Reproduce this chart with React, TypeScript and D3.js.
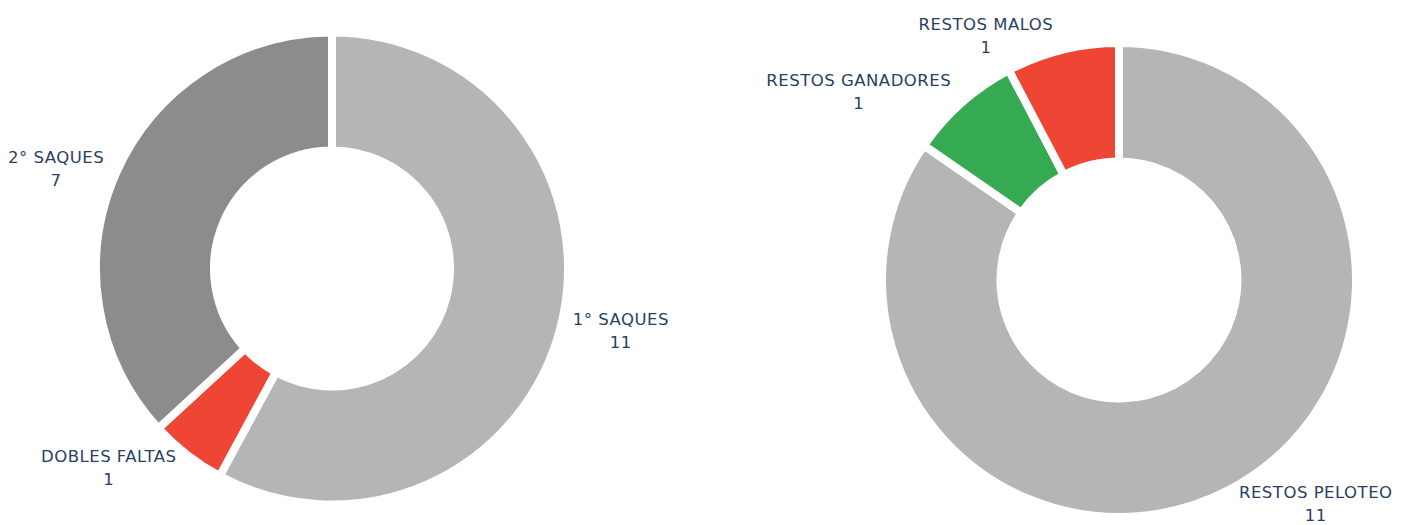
import React from 'react';
import * as d3 from 'd3';

const serveLabels = ['1° SAQUES', 'DOBLES FALTAS', '2° SAQUES'];
const serveValues = [11, 1, 7];
const serveColors = ['#b5b5b5', '#ee4535', '#8c8c8c'];

const returnLabels = ['RESTOS PELOTEO', 'RESTOS GANADORES', 'RESTOS MALOS'];
const returnValues = [11, 1, 1];
const returnColors = ['#b5b5b5', '#35aa52', '#ee4535'];

const W = 1406;
const H = 525;
const FONT_SIZE = 16.5;
const LETTER = 0.5;
const TEXT = '#2a3f5f';

let ctx: CanvasRenderingContext2D | null = null;
function textWidth(s: string) {
  if (!ctx) ctx = document.createElement('canvas').getContext('2d');
  if (!ctx) return s.length * FONT_SIZE * 0.6;
  ctx.font = `${FONT_SIZE}px "DejaVu Sans"`;
  return ctx.measureText(s).width + s.length * LETTER;
}

type DonutProps = {
  labels: string[];
  values: number[];
  colors: string[];
  cx: number;
  cy: number;
  r: number;
};

function Donut({ labels, values, colors, cx, cy, r }: DonutProps) {
  const pie = d3.pie<number>().sort(null).value(d => d);
  const arcs = pie(values);
  const arc = d3.arc<d3.PieArcDatum<number>>()
    .innerRadius(r * 0.5)
    .outerRadius(r);

  return (
    <g transform={`translate(${cx},${cy})`}>
      {arcs.map((a, i) => (
        <path key={i} d={arc(a) || ''} fill={colors[i]} stroke="#fff" strokeWidth={8} />
      ))}
      {arcs.map((a, i) => {
        const mid = (a.startAngle + a.endAngle) / 2;
        const s = Math.sin(mid);
        const c = Math.cos(mid);
        const px = (r + 4) * s;
        const py = -(r + 4) * c;
        const right = s >= 0;
        const w = textWidth(labels[i]);
        const edge = px + (right ? 8 : -8);
        // centre of the two-line block
        const xc = right ? edge + w / 2 : edge - w / 2;
        const yc = py - c * 11 + 1;
        return (
          <text
            key={'t' + i}
            textAnchor="middle"
            fontFamily='"DejaVu Sans", Verdana, sans-serif'
            fontSize={FONT_SIZE}
            letterSpacing={LETTER}
            fill={TEXT}
          >
            <tspan x={xc} y={yc - 6}>{labels[i]}</tspan>
            <tspan x={xc} y={yc + 17}>{String(values[i])}</tspan>
          </text>
        );
      })}
    </g>
  );
}

export default function App() {
  return (
    <svg width={W} height={H} style={{ position: 'absolute', left: 0, top: 0, background: '#fff' }}>
      <Donut labels={serveLabels} values={serveValues} colors={serveColors} cx={332} cy={268.5} r={236} />
      <Donut labels={returnLabels} values={returnValues} colors={returnColors} cx={1119} cy={280} r={237} />
    </svg>
  );
}
